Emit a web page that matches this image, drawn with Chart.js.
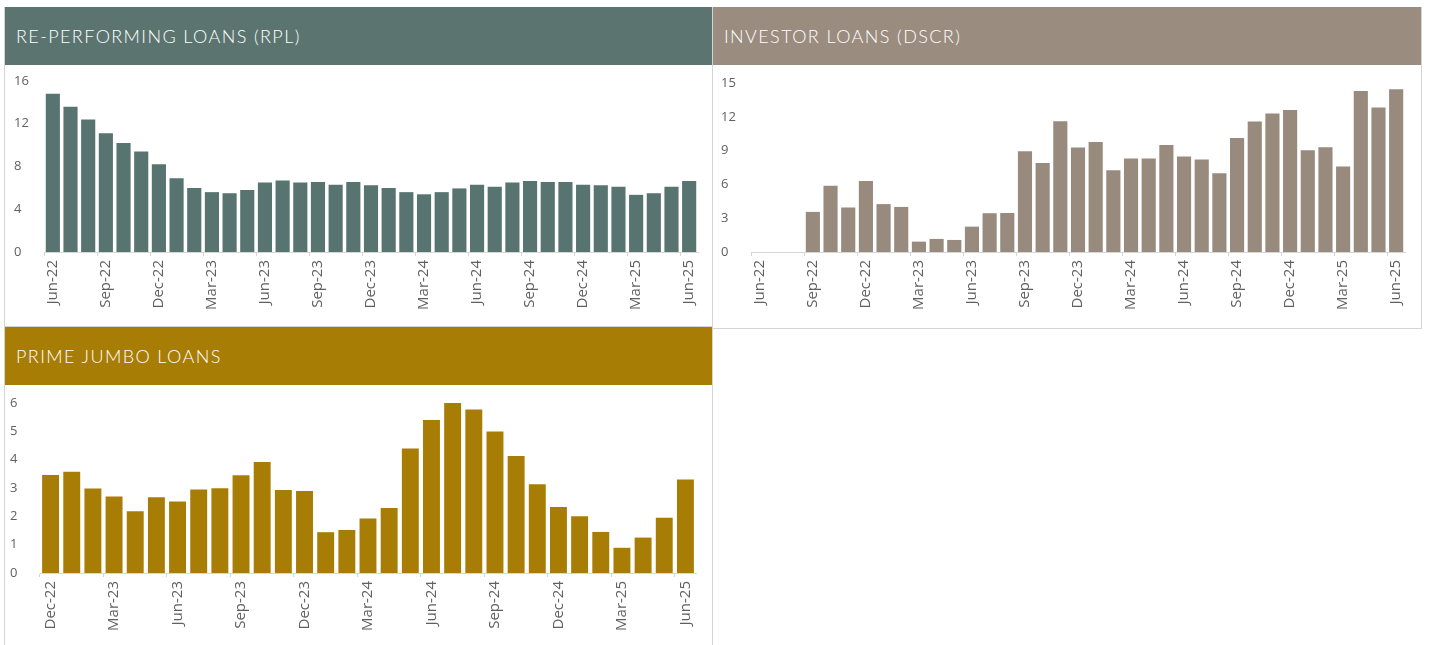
<!DOCTYPE html>
<html>
<head>
<meta charset="utf-8">
<script src="https://cdn.jsdelivr.net/npm/chart.js@4"></script>
<style>
  body { margin: 0; background: #fff; width: 1429px; height: 645px; overflow: hidden; font-family: "Lato", sans-serif; }
  .panel { position: absolute; box-sizing: border-box; border: 1px solid #d4d4d4; border-top: none; background: #fff; }
  .head { position: absolute; left: 0; top: 0; right: 0; height: 58px; color: #fff; font-size: 18px; font-weight: 300; letter-spacing: 1.4px; line-height: 58px; padding-left: 11px; box-sizing: border-box; }
  .body { position: absolute; left: 0; top: 58px; right: 0; bottom: 0; }
  canvas { display: block; }
</style>
</head>
<body>
<div class="panel" id="p1" style="left:4px; top:7px; width:709px; height:320px;">
  <div class="head" style="background:#5b7470;">RE-PERFORMING LOANS (RPL)</div>
  <div class="body"><canvas id="rplChart"></canvas></div>
</div>
<div class="panel" id="p2" style="left:712px; top:7px; width:710px; height:322px;">
  <div class="head" style="background:#9b8c80;">INVESTOR LOANS (DSCR)</div>
  <div class="body"><canvas id="dscrChart"></canvas></div>
</div>
<div class="panel" id="p3" style="left:4px; top:327px; width:709px; height:330px;">
  <div class="head" style="background:#a87d05;">PRIME JUMBO LOANS</div>
  <div class="body"><canvas id="jumboChart"></canvas></div>
</div>
<script>
// monthly labels
const months36 = [
  "Jun-22", "Jul-22", "Aug-22", "Sep-22", "Oct-22", "Nov-22", "Dec-22",
  "Jan-23", "Feb-23", "Mar-23", "Apr-23", "May-23", "Jun-23", "Jul-23", "Aug-23", "Sep-23", "Oct-23", "Nov-23", "Dec-23",
  "Jan-24", "Feb-24", "Mar-24", "Apr-24", "May-24", "Jun-24", "Jul-24", "Aug-24", "Sep-24", "Oct-24", "Nov-24", "Dec-24",
  "Jan-25", "Feb-25", "Mar-25", "Apr-25", "May-25", "Jun-25"
];
const jumboMonths = months36.slice(6);

const rplValues = [
  14.8, 13.6, 12.4, 11.1, 10.2, 9.4, 8.2, 6.9, 6.0, 5.6, 5.5, 5.8, 6.5,
  6.7, 6.5, 6.55, 6.3, 6.55, 6.24, 6.0, 5.6, 5.4, 5.6, 5.95, 6.3,
  6.1, 6.5, 6.65, 6.55, 6.55, 6.3, 6.24, 6.1, 5.35, 5.5, 6.1, 6.65
];
const dscrValues = [
  0, 0, 0, 3.56, 5.88, 3.95, 6.3, 4.25, 4.0, 0.92, 1.16, 1.07, 2.25,
  3.44, 3.46, 8.94, 7.9, 11.6, 9.27, 9.77, 7.25, 8.29, 8.29, 9.5, 8.47,
  8.2, 7.0, 10.12, 11.58, 12.3, 12.6, 9.03, 9.3, 7.58, 14.3, 12.83, 14.44
];
const jumboValues = [
  3.46, 3.57, 2.98, 2.7, 2.18, 2.67, 2.52, 2.95, 2.99, 3.45, 3.92, 2.93, 2.89,
  1.44, 1.52, 1.92, 2.29, 4.39, 5.4, 6.08, 5.77, 4.99, 4.13, 3.13, 2.33,
  2.0, 1.45, 0.89, 1.25, 1.95, 3.3
];

const rplTicks = [0, 4, 8, 12, 16];
const dscrTicks = [0, 3, 6, 9, 12, 15];
const jumboTicks = [0, 1, 2, 3, 4, 5, 6];

function makeChart(id, w, h, labels, values, color, yTicks, pad) {
  const cv = document.getElementById(id);
  cv.width = w;
  cv.height = h;
  cv.style.width = w + "px";
  cv.style.height = h + "px";
  const step = yTicks[1] - yTicks[0];
  return new Chart(cv.getContext("2d"), {
    type: "bar",
    data: {
      labels: labels,
      datasets: [{
        data: values,
        backgroundColor: color,
        borderWidth: 0,
        categoryPercentage: 0.8,
        barPercentage: 1.0,
      }],
    },
    options: {
      responsive: false,
      animation: false,
      layout: { padding: pad },
      plugins: { legend: { display: false }, tooltip: { enabled: false } },
      scales: {
        x: {
          border: { color: "#d6d6d6" },
          grid: {
            offset: true,
            drawOnChartArea: false,
            tickLength: 4,
            color: function (ctx) {
              return ctx.index % 3 === 0 ? "#d6d6d6" : "rgba(0,0,0,0)";
            },
          },
          ticks: {
            autoSkip: false,
            maxRotation: 90,
            minRotation: 90,
            padding: 4,
            color: "#606060",
            font: { family: "Open Sans", size: 15 },
            callback: function (value, index) {
              return index % 3 === 0 ? labels[index] : "";
            },
          },
          afterFit: function (scale) { scale.height = 62; },
        },
        y: {
          min: yTicks[0],
          max: yTicks[yTicks.length - 1],
          border: { display: false },
          grid: { display: false },
          ticks: {
            stepSize: step,
            crossAlign: "far",
            padding: 6,
            color: "#606060",
            font: { family: "Open Sans", size: 13 },
          },
          afterFit: function (scale) { scale.width = 30; },
        },
      },
    },
  });
}

makeChart("rplChart", 707, 261, months36, rplValues, "#587471", rplTicks,
  { left: 9, right: 14, top: 16, bottom: 12 });
makeChart("dscrChart", 708, 263, months36, dscrValues, "#998a7e", dscrTicks,
  { left: 8, right: 16, top: 18, bottom: 14 });
makeChart("jumboChart", 707, 272, jumboMonths, jumboValues, "#a87d06", jumboTicks,
  { left: 5, right: 16, top: 18, bottom: 22 });
</script>
</body>
</html>
